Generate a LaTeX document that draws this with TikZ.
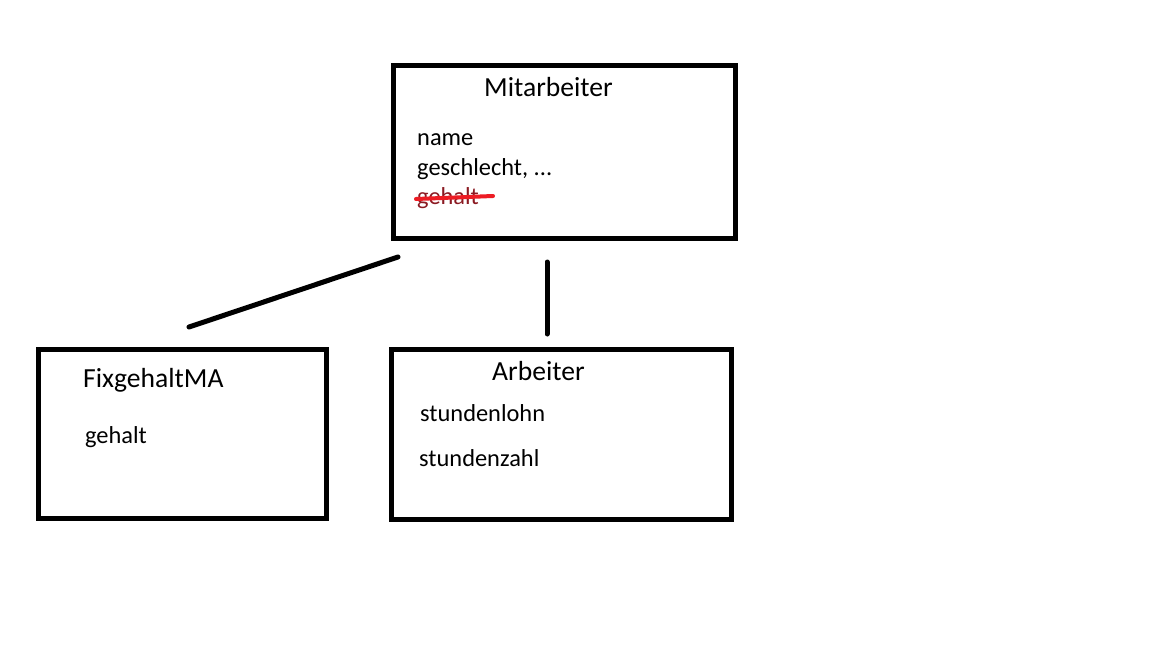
\documentclass[tikz,border=0pt]{standalone}
\usepackage{fontspec}
\setmainfont{Carlito}
\definecolor{paintred}{HTML}{ED1C24}
\definecolor{strikedtext}{HTML}{8B1A22}
\begin{document}
\begin{tikzpicture}[x=1pt,y=-1pt,
  classbox/.style={draw=black,line width=5pt,fill=none},
  titletext/.style={font=\fontsize{27.6}{32}\selectfont,anchor=base west,inner sep=0pt},
  attrtext/.style={font=\fontsize{24.4}{28}\selectfont,anchor=base west,inner sep=0pt},
  link/.style={line width=5pt,line cap=round}]
\useasboundingbox (0,0) rectangle (1152,648);
\fill[white] (0,0) rectangle (1152,648);
% boxes
\draw[classbox] (393,65) rectangle (735,238);
\draw[classbox] (38,349) rectangle (326,518);
\draw[classbox] (391,349) rectangle (731,519);
% texts
\node[titletext] (mtitle) at (484,96) {Mitarbeiter};
\node[attrtext] (mname) at (417,145) {name};
\node[attrtext] (mgesch) at (417,175) {geschlecht, ...};
\node[attrtext,text=strikedtext] (mgehalt) at (417,204) {gehalt};
\node[titletext] (ftitle) at (83,387) {FixgehaltMA};
\node[attrtext] (fgehalt) at (85,443) {gehalt};
\node[titletext] (atitle) at (492,380) {Arbeiter};
\node[attrtext] (alohn) at (420,421) {stundenlohn};
\node[attrtext] (azahl) at (419,466) {stundenzahl};
% strike
\coordinate (s1) at (416,199);
\coordinate (s2) at (493,196);
\draw[paintred,line width=4pt,line cap=round] (s1) -- (s2);
% connectors
\coordinate (d1) at (398,257);
\coordinate (d2) at (189,327);
\coordinate (v1) at (547,262);
\coordinate (v2) at (547,334);
\draw[link] (d1) -- (d2);
\draw[link] (v1) -- (v2);
\end{tikzpicture}
\end{document}
